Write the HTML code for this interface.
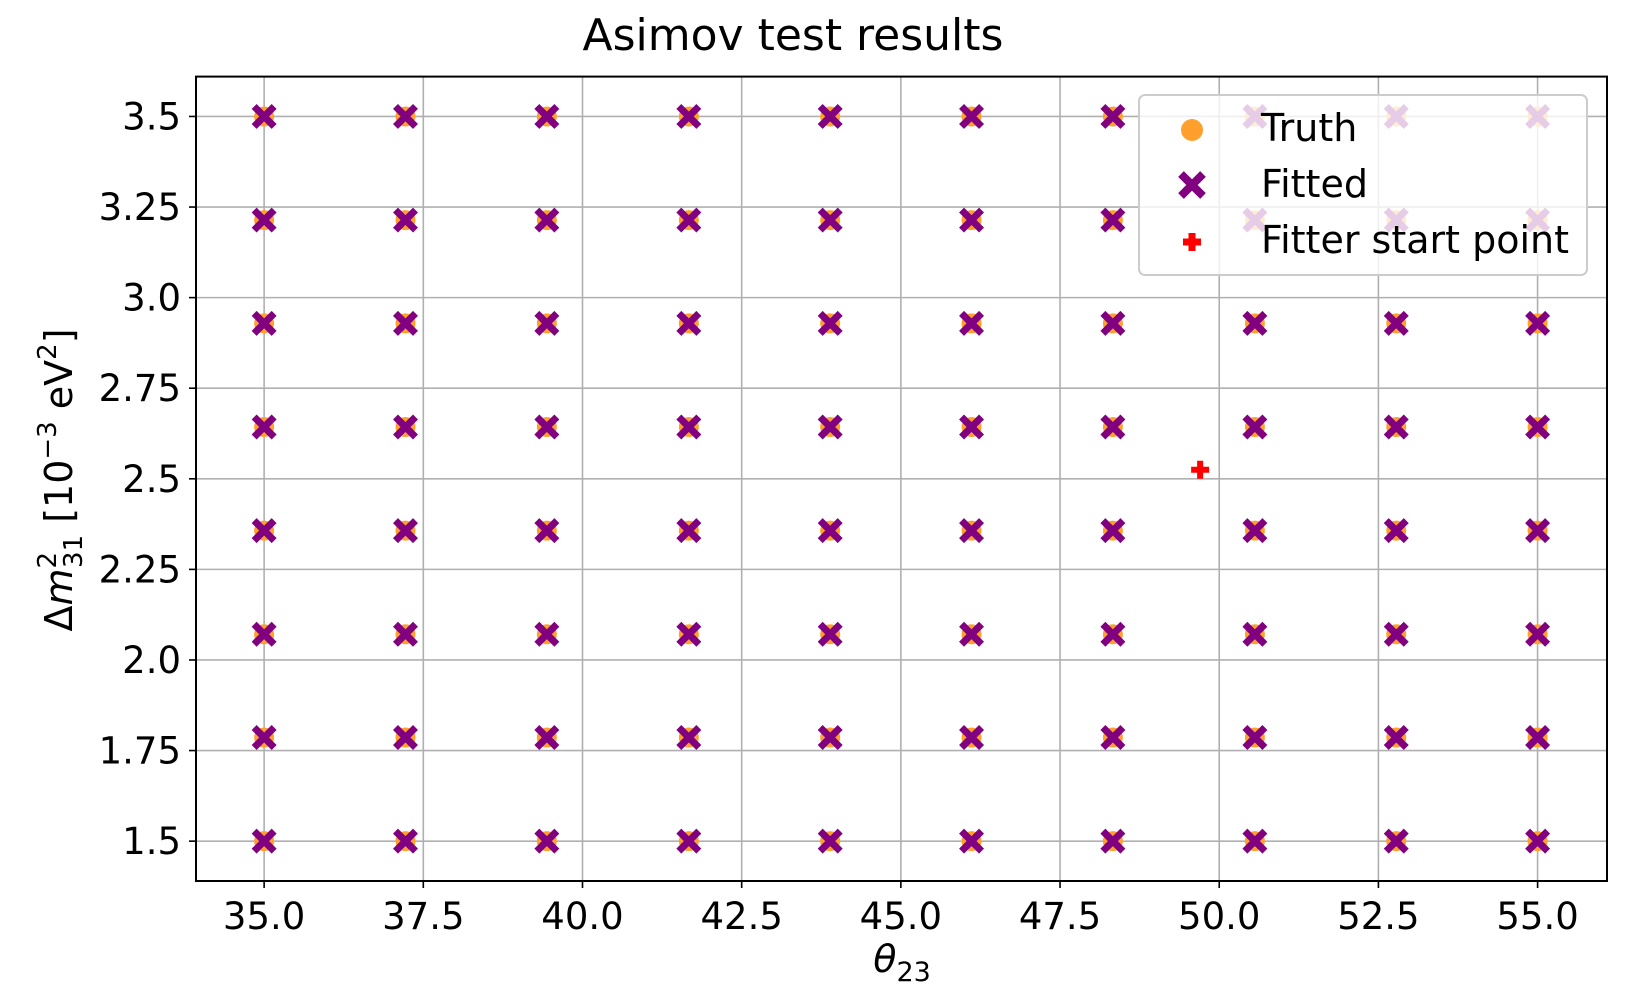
<!DOCTYPE html>
<html><head><meta charset="utf-8"><style>
html,body{margin:0;padding:0;background:#fff;}
svg{display:block;font-family:"DejaVu Sans","Liberation Sans",sans-serif;}
</style></head><body>
<svg id="chart" width="1644" height="1008" viewBox="0 0 1644 1008">
<text x="793" y="50" font-size="44" text-anchor="middle">Asimov test results</text>
<g id="grid"></g>
<g id="pts"></g>
<rect x="196" y="76.6" width="1411" height="804.4" fill="none" stroke="#000" stroke-width="2"/>
<g id="ticks"></g>
<text x="902" y="972" font-size="38" text-anchor="middle" font-style="italic">θ<tspan font-size="27" dy="9" font-style="normal">23</tspan></text>
<text transform="translate(72,480) rotate(-90)" font-size="38" text-anchor="middle">Δ<tspan font-style="italic">m</tspan><tspan font-size="26" dy="-16">2</tspan><tspan font-size="26" dx="-16" dy="26">31</tspan><tspan dy="-10"> [10</tspan><tspan font-size="26" dy="-16">−3</tspan><tspan dy="16"> eV</tspan><tspan font-size="26" dy="-16">2</tspan><tspan dy="16">]</tspan></text>
<g>
<rect x="1139" y="95" width="448" height="180" rx="6" fill="#fff" fill-opacity="0.8" stroke="#ccc" stroke-width="2"/>
<circle cx="1192" cy="130" r="11" fill="#ffa02e"/>
<text x="1261" y="141" font-size="38">Truth</text>
<path d="M1181 174 L1203 196 M1203 174 L1181 196" stroke="#800080" stroke-width="8"/>
<text x="1261" y="197" font-size="38">Fitted</text>
<path d="M1192 233 v18 M1183 242 h18" stroke="#ff0000" stroke-width="7"/>
<text x="1261" y="253" font-size="38">Fitter start point</text>
</g>
</svg>
<script>
const xTicks=[35.0,37.5,40.0,42.5,45.0,47.5,50.0,52.5,55.0];
const xTickLabels=["35.0","37.5","40.0","42.5","45.0","47.5","50.0","52.5","55.0"];
const yTicks=[1.5,1.75,2.0,2.25,2.5,2.75,3.0,3.25,3.5];
const yTickLabels=["1.5","1.75","2.0","2.25","2.5","2.75","3.0","3.25","3.5"];
const theta=[35.0,37.22,39.44,41.67,43.89,46.11,48.33,50.56,52.78,55.0];
const dm2=[1.5,1.786,2.071,2.357,2.643,2.929,3.214,3.5];
const startX=[49.7];
const startY=[2.525];
const X0=33.93,X1=56.09,Y0=1.39,Y1=3.61,L=196,R=1607,T=76.6,B=881;
const sx=v=>L+(v-X0)/(X1-X0)*(R-L);
const sy=v=>B-(v-Y0)/(Y1-Y0)*(B-T);
const NS="http://www.w3.org/2000/svg";
function mk(tag,attrs,parent){const e=document.createElementNS(NS,tag);for(const k in attrs)e.setAttribute(k,attrs[k]);parent.appendChild(e);return e;}
const grid=document.getElementById('grid'),ticks=document.getElementById('ticks'),pts=document.getElementById('pts');
xTicks.forEach((v,i)=>{
 const x=sx(v);
 const g=mk('line',{x1:x,x2:x,y1:T,y2:B,stroke:'#b0b0b0','stroke-width':1.6},grid);
 
 
 const t=mk('line',{x1:x,x2:x,y1:B,y2:B+7,stroke:'#000','stroke-width':1.6},ticks);
 
 
 const l=mk('text',{x:x,y:B+48,'font-size':37,'text-anchor':'middle'},ticks);
 l.textContent=xTickLabels[i];
 
 
});
yTicks.forEach((v,i)=>{
 const y=sy(v);
 const g=mk('line',{x1:L,x2:R,y1:y,y2:y,stroke:'#b0b0b0','stroke-width':1.6},grid);
 
 
 const t=mk('line',{x1:L-7,x2:L,y1:y,y2:y,stroke:'#000','stroke-width':1.6},ticks);
 
 
 const l=mk('text',{x:L-15,y:y+13,'font-size':37,'text-anchor':'end'},ticks);
 l.textContent=yTickLabels[i];
 
 
});
theta.forEach(tv=>dm2.forEach(dv=>{
 const c=mk('circle',{cx:sx(tv),cy:sy(dv),r:10,fill:'#ffa02e'},pts);
 
 
}));
theta.forEach(tv=>dm2.forEach(dv=>{
 const x=sx(tv),y=sy(dv);
 const p=mk('path',{d:`M${x-10} ${y-10} L${x+10} ${y+10} M${x+10} ${y-10} L${x-10} ${y+10}`,stroke:'#800080','stroke-width':7},pts);
 
 
}));
startX.forEach((v,i)=>{
 const x=sx(v),y=sy(startY[i]);
 const p=mk('path',{d:`M${x} ${y-9} v18 M${x-9} ${y} h18`,stroke:'#ff0000','stroke-width':6},pts);
 
 
});
</script>
</body></html>
